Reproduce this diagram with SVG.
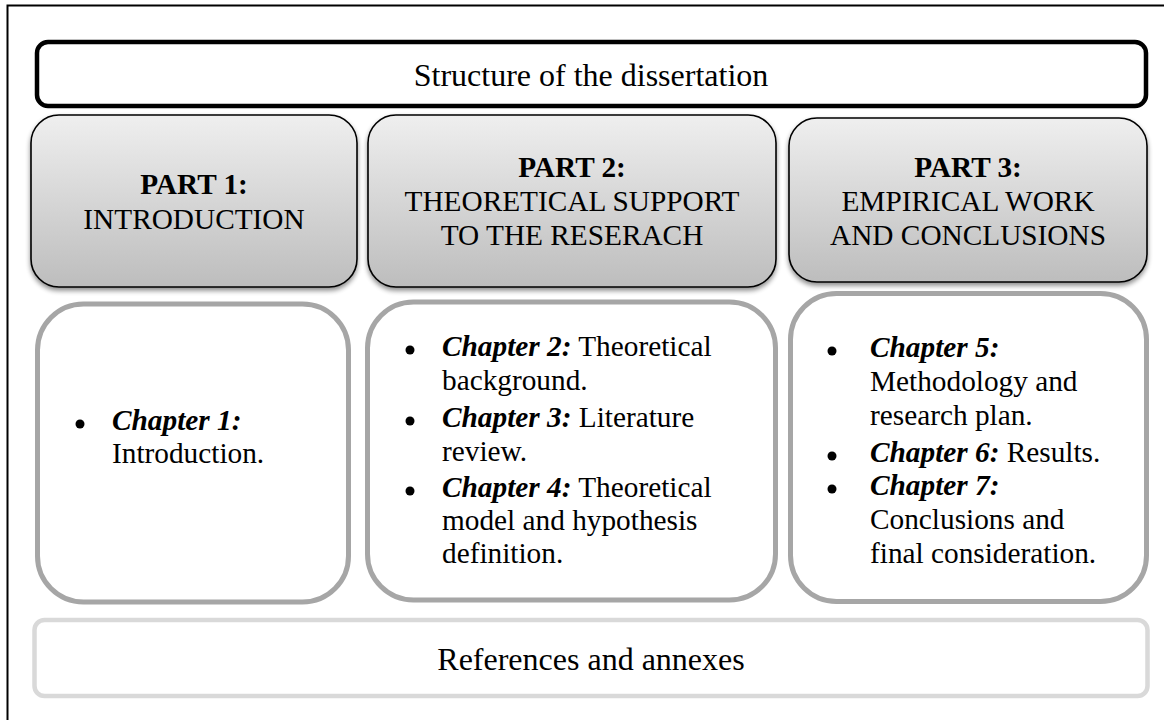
<svg xmlns="http://www.w3.org/2000/svg" width="1164" height="720" viewBox="0 0 1164 720">
  <defs>
    <linearGradient id="partFill" x1="0" y1="0" x2="0" y2="1">
      <stop offset="0" stop-color="#efefef"/>
      <stop offset="1" stop-color="#bdbdbd"/>
    </linearGradient>
    <filter id="shadow" x="-5%" y="-5%" width="110%" height="115%">
      <feGaussianBlur in="SourceAlpha" stdDeviation="2.5"/>
      <feOffset dy="3" result="b"/>
      <feComponentTransfer><feFuncA type="linear" slope="0.45"/></feComponentTransfer>
      <feMerge><feMergeNode/><feMergeNode in="SourceGraphic"/></feMerge>
    </filter>
  </defs>
  <style>
    text { font-family: "Liberation Serif", "Times New Roman", serif; fill: #000; }
    .title { font-size: 32px; }
    .part { font-size: 29.3px; text-anchor: middle; }
    .b { font-weight: bold; }
    .item { font-size: 29.3px; }
    .ch { font-weight: bold; font-style: italic; }
    .partBox { fill: url(#partFill); stroke: #000; stroke-width: 1.6; filter: url(#shadow); }
    .listBox { fill: #fff; stroke: #a6a6a6; stroke-width: 5; }
    .refBox { fill: #fff; stroke: #d9d9d9; stroke-width: 4.5; }
  </style>

  <rect width="1164" height="720" fill="#fff"/>

  <!-- page frame -->
  <path d="M7.5 720 V5.5 H1164" fill="none" stroke="#000" stroke-width="2"/>

  <!-- header -->
  <g id="title">
    <rect x="37" y="42" width="1109" height="64" rx="11" fill="#fff" stroke="#000" stroke-width="4.5"/>
    <text class="title" x="591" y="86" text-anchor="middle">Structure of the dissertation</text>
  </g>

  <!-- part headings -->
  <g id="part1">
    <rect class="partBox" x="31" y="115" width="326" height="172" rx="28"/>
    <text class="part" x="194" y="194"><tspan class="b">PART 1:</tspan><tspan x="194" dy="35">INTRODUCTION</tspan></text>
  </g>
  <g id="part2">
    <rect class="partBox" x="368" y="115" width="408" height="172" rx="28"/>
    <text class="part" x="572" y="177"><tspan class="b">PART 2:</tspan><tspan x="572" dy="34">THEORETICAL SUPPORT</tspan><tspan x="572" dy="34">TO THE RESERACH</tspan></text>
  </g>
  <g id="part3">
    <rect class="partBox" x="789" y="118" width="358" height="164" rx="28"/>
    <text class="part" x="968" y="177"><tspan class="b">PART 3:</tspan><tspan x="968" dy="34">EMPIRICAL WORK</tspan><tspan x="968" dy="34">AND CONCLUSIONS</tspan></text>
  </g>

  <!-- chapter lists -->
  <g id="chapters1">
    <rect class="listBox" x="37.5" y="304" width="311" height="298" rx="46"/>
    <circle cx="80" cy="424" r="4.5"/>
    <text class="item" x="112" y="430"><tspan class="ch">Chapter 1:</tspan><tspan x="112" dy="33">Introduction.</tspan></text>
  </g>
  <g id="chapters2">
    <rect class="listBox" x="367.5" y="302" width="408" height="298" rx="46"/>
    <circle cx="410" cy="350" r="4.5"/>
    <circle cx="410" cy="421" r="4.5"/>
    <circle cx="410" cy="491" r="4.5"/>
    <text class="item" x="442" y="356"><tspan class="ch">Chapter 2:</tspan> Theoretical<tspan x="442" dy="34">background.</tspan></text>
    <text class="item" x="442" y="427"><tspan class="ch">Chapter 3:</tspan> Literature<tspan x="442" dy="34">review.</tspan></text>
    <text class="item" x="442" y="497"><tspan class="ch">Chapter 4:</tspan> Theoretical<tspan x="442" dy="33">model and hypothesis</tspan><tspan x="442" dy="33">definition.</tspan></text>
  </g>
  <g id="chapters3">
    <rect class="listBox" x="790.5" y="293.5" width="356" height="308" rx="46"/>
    <circle cx="832" cy="351" r="4.5"/>
    <circle cx="832" cy="456" r="4.5"/>
    <circle cx="832" cy="489" r="4.5"/>
    <text class="item" x="870" y="357"><tspan class="ch">Chapter 5:</tspan><tspan x="870" dy="34">Methodology and</tspan><tspan x="870" dy="34">research plan.</tspan></text>
    <text class="item" x="870" y="462"><tspan class="ch">Chapter 6:</tspan> Results.</text>
    <text class="item" x="870" y="495"><tspan class="ch">Chapter 7:</tspan><tspan x="870" dy="34">Conclusions and</tspan><tspan x="870" dy="34">final consideration.</tspan></text>
  </g>

  <!-- back matter -->
  <g id="references">
    <rect class="refBox" x="34.5" y="620" width="1113" height="76" rx="10"/>
    <text class="title" x="591" y="670" text-anchor="middle">References and annexes</text>
  </g>

  <!-- no connectors are drawn between the blocks -->
  <g id="connectors"/>
</svg>
